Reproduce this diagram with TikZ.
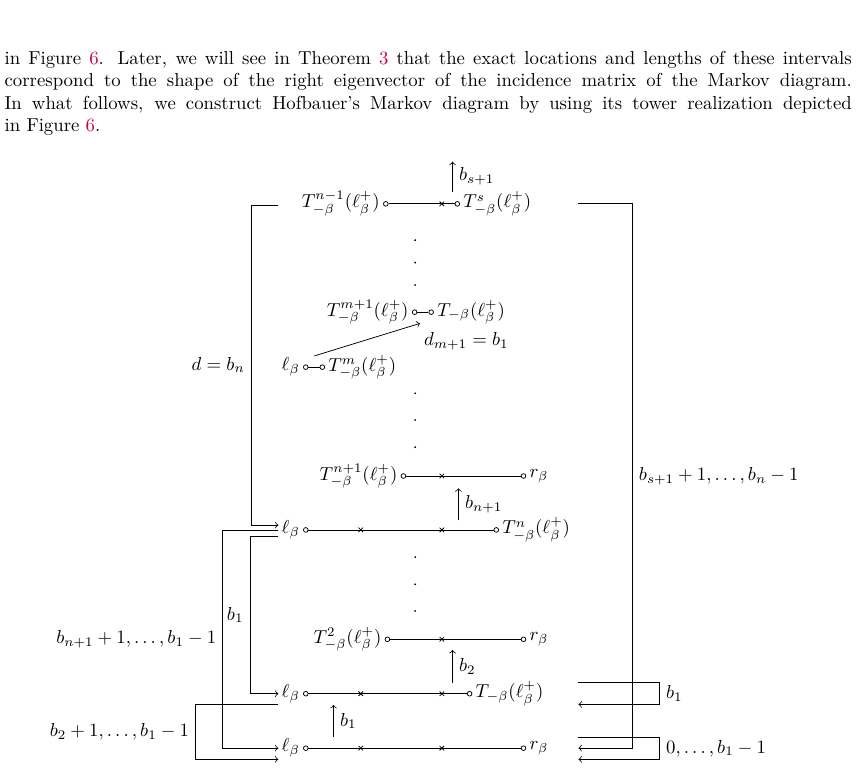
\documentclass[tikz,border=0pt]{standalone}
\usepackage{amsmath,amssymb}
\usetikzlibrary{positioning,shapes.misc}
\definecolor{linkc}{rgb}{0.8,0,0.3}

\begin{document}
\begin{tikzpicture}[pt/.style={circle, draw, inner sep=0pt, minimum size=2.5pt},
  xm/.style={cross out, draw, inner sep=0pt, minimum size=2pt},
  lab/.style={inner sep=1.6pt},
  dot/.style={circle, fill, inner sep=0pt, minimum size=1.1pt}]
  \useasboundingbox (0,0) rectangle (16.06,-14.45);
  \node[anchor=north west, inner sep=0pt, text width=451.7pt, align=justify] (par) at (0.08,-0.90)
    {\strut in Figure \textcolor{linkc}{6}. Later, we will see in Theorem \textcolor{linkc}{3} that the exact locations and lengths of these intervals\linebreak
    correspond to the shape of the right eigenvector of the incidence matrix of the Markov diagram.\linebreak
    In what follows, we construct Hofbauer's Markov diagram by using its tower realization depicted\linebreak
    in Figure \textcolor{linkc}{6}.};

  % top row
  \node[pt] (aS) at (7.23,-3.82) {};
  \node[xm] (xS) at (8.28,-3.82) {};
  \node[pt] (bS) at (8.57,-3.82) {};
  \node[lab, left=0pt of aS] (lS) {$T^{n-1}_{-\beta}(\ell^+_\beta)$};
  \node[lab, right=0pt of bS] (rS) {$T^{s}_{-\beta}(\ell^+_\beta)$};
  \draw (aS) -- (bS);
  \coordinate (sb) at (8.48,-3.59);
  \coordinate (st) at (8.48,-3.03);
  \draw[->] (sb) -- (st) node[midway, right] {$b_{s+1}$};

  % rows m+1 and m
  \node[pt] (aM1) at (7.77,-5.85) {};
  \node[pt] (bM1) at (8.08,-5.85) {};
  \node[lab, left=0pt of aM1] (lM1) {$T^{m+1}_{-\beta}(\ell^+_\beta)$};
  \node[lab, right=0pt of bM1] (rM1) {$T_{-\beta}(\ell^+_\beta)$};
  \draw (aM1) -- (bM1);
  \node[pt] (aM) at (5.73,-6.88) {};
  \node[pt] (bM) at (6.04,-6.88) {};
  \node[lab, left=0pt of aM] (lM) {$\ell_\beta$};
  \node[lab, right=0pt of bM] (rM) {$T^{m}_{-\beta}(\ell^+_\beta)$};
  \draw (aM) -- (bM);
  \coordinate (ds) at (5.89,-6.67);
  \coordinate (de) at (7.87,-6.06);
  \draw[->] (ds) -- (de);
  \node (dl) at (8.74,-6.40) {$d_{m+1}=b_1$};

  % rows n+1 and n
  \node[pt] (aN1) at (7.56,-8.92) {};
  \node[xm] (xN1) at (8.28,-8.92) {};
  \node[pt] (bN1) at (9.81,-8.92) {};
  \node[lab, left=0pt of aN1] (lN1) {$T^{n+1}_{-\beta}(\ell^+_\beta)$};
  \node[lab, right=0pt of bN1] (rN1) {$r_\beta$};
  \draw (aN1) -- (bN1);
  \coordinate (nb) at (8.59,-9.75);
  \coordinate (nt) at (8.59,-9.15);
  \draw[->] (nb) -- (nt) node[midway, right] {$b_{n+1}$};
  \node[pt] (aN) at (5.73,-9.93) {};
  \node[xm] (xNa) at (6.76,-9.93) {};
  \node[xm] (xNb) at (8.28,-9.93) {};
  \node[pt] (bN) at (9.30,-9.93) {};
  \node[lab, left=0pt of aN] (lN) {$\ell_\beta$};
  \node[lab, right=0pt of bN] (rN) {$T^{n}_{-\beta}(\ell^+_\beta)$};
  \draw (aN) -- (bN);

  % rows 3, 2 and 1
  \node[pt] (a3) at (7.26,-11.98) {};
  \node[xm] (x3) at (8.28,-11.98) {};
  \node[pt] (b3) at (9.81,-11.98) {};
  \node[lab, left=0pt of a3] (l3) {$T^{2}_{-\beta}(\ell^+_\beta)$};
  \node[lab, right=0pt of b3] (r3) {$r_\beta$};
  \draw (a3) -- (b3);
  \coordinate (tb) at (8.48,-12.80);
  \coordinate (tt) at (8.48,-12.18);
  \draw[->] (tb) -- (tt) node[midway, right] {$b_2$};
  \node[pt] (a2) at (5.73,-13.00) {};
  \node[xm] (x2a) at (6.76,-13.00) {};
  \node[xm] (x2b) at (8.28,-13.00) {};
  \node[pt] (b2) at (8.80,-13.00) {};
  \node[lab, left=0pt of a2] (l2) {$\ell_\beta$};
  \node[lab, right=0pt of b2] (r2) {$T_{-\beta}(\ell^+_\beta)$};
  \draw (a2) -- (b2);
  \coordinate (ob) at (6.25,-13.81);
  \coordinate (ot) at (6.25,-13.21);
  \draw[->] (ob) -- (ot) node[midway, right] {$b_1$};
  \node[pt] (a1) at (5.73,-14.02) {};
  \node[xm] (x1a) at (6.76,-14.02) {};
  \node[xm] (x1b) at (8.28,-14.02) {};
  \node[pt] (b1) at (9.81,-14.02) {};
  \node[lab, left=0pt of a1] (l1) {$\ell_\beta$};
  \node[lab, right=0pt of b1] (r1) {$r_\beta$};
  \draw (a1) -- (b1);

  % dots
  \foreach \y [count=\i] in {-4.50,-4.92,-5.34,-7.37,-7.87,-8.38,-10.44,-10.95,-11.45}
    \node[dot] (d\i) at (7.78,\y) {};

  % left transitions
  \coordinate (tlE) at (5.21,-3.84);
  \draw[->] (tlE) -- ++(-0.50,0) |- ([yshift=0.09cm]lN.west) node[pos=0.25, left] {$d=b_n$};
  \draw[->] ([yshift=-0.01cm]lN.west) -- ++(-1.04,0) |- (l1.west) node[pos=0.25, left] {$b_{n+1}+1,\dots,b_1-1$};
  \draw[->] ([yshift=-0.12cm]lN.west) -- ++(-0.53,0) |- (l2.west) node[pos=0.25, left] {$b_1$};
  \draw[->] ([yshift=-0.20cm]l2.west) -- ++(-1.55,0) |- ([yshift=-0.21cm]l1.west) node[pos=0.25, left] {$b_2+1,\dots,b_1-1$};

  % right transitions
  \coordinate (trE) at (10.84,-3.82);
  \coordinate (rIn) at (10.84,-14.02);
  \draw[->] (trE) -- ++(1.01,0) |- (rIn) node[pos=0.25, right] {$b_{s+1}+1,\dots,b_n-1$};
  \coordinate (ro2) at (10.84,-12.79);
  \coordinate (ri2) at (10.84,-13.20);
  \draw[->] (ro2) -- ++(1.52,0) |- (ri2) node[pos=0.25, right] {$b_1$};
  \coordinate (ro1) at (10.84,-13.82);
  \coordinate (ri1) at (10.84,-14.23);
  \draw[->] (ro1) -- ++(1.52,0) |- (ri1) node[pos=0.25, right] {$0,\dots,b_1-1$};
\end{tikzpicture}
\end{document}
